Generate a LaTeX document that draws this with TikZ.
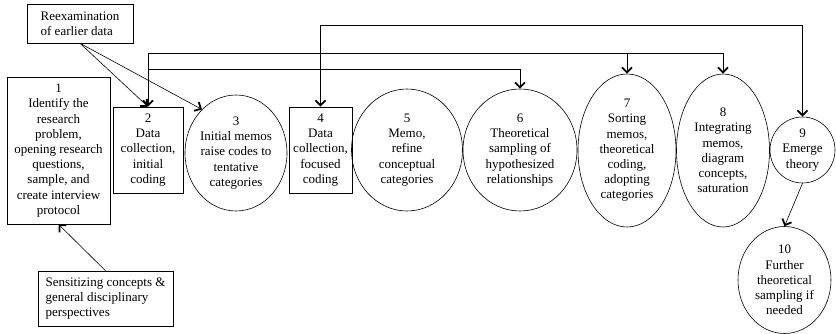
\documentclass[tikz,border=0pt]{standalone}
\usepackage{fontspec}
\setmainfont{Liberation Serif}
\usetikzlibrary{arrows.meta,shapes.geometric}

\begin{document}
\begin{tikzpicture}[x=1pt,y=-1pt,line width=0.6pt,
    every node/.style={font=\fontsize{13}{15.2}\selectfont,align=center,inner sep=0pt},
    stepbox/.style={draw,rectangle},
    stepoval/.style={draw,ellipse},
    arr/.style={-{Straight Barb[length=5pt,width=10pt,line width=1.8pt]}}]

    \useasboundingbox (0,0) rectangle (836,334);

    \node[stepbox,minimum width=103,minimum height=147] (s1) at (58.5,150.5) {1\\Identify the\\research\\problem,\\opening research\\questions,\\sample, and\\create interview\\protocol};
    \node[stepbox,minimum width=70,minimum height=86] (s2) at (148,150) {2\\Data\\collection,\\initial\\coding};
    \node[stepoval,minimum width=102,minimum height=116] (s3) at (236,153) {3\\Initial memos\\raise codes to\\tentative\\categories};
    \node[stepbox,minimum width=63,minimum height=86] (s4) at (320.5,150) {4\\Data\\collection,\\focused\\coding};
    \node[stepoval,minimum width=111,minimum height=122] (s5) at (407,150) {5\\Memo,\\refine\\conceptual\\categories};
    \node[stepoval,minimum width=114,minimum height=122] (s6) at (520,150) {6\\Theoretical\\sampling of\\hypothesized\\relationships};
    \node[stepoval,minimum width=98,minimum height=153] (s7) at (627,150.5) {7\\Sorting\\memos,\\theoretical\\coding,\\adopting\\categories};
    \node[stepoval,minimum width=93,minimum height=153] (s8) at (723,150.5) {8\\Integrating\\memos,\\diagram\\concepts,\\saturation};
    \node[stepoval,minimum width=65,minimum height=66] (s9) at (802.5,150) {9\\Emerge\\theory};
    \node[stepoval,minimum width=93,minimum height=107] (s10) at (784.5,280) {10\\Further\\theoretical\\sampling if\\needed};

    \node[stepbox,minimum width=106,minimum height=39,align=left] (reex) at (80,23.5) {Reexamination\\of earlier data};
    \node[stepbox,minimum width=135,minimum height=55,align=left] (sens) at (105.5,298.5) {Sensitizing concepts \&\\general disciplinary\\perspectives};

    \coordinate (busA) at (0,53);
    \coordinate (busB) at (0,69);
    \coordinate (busC) at (0,25);

    \draw[arr] (reex.south) -- (s2.north);
    \draw[arr] (reex.south) -- (s3.128);

    \draw (s2.north |- busA) -- (s8.north |- busA);
    \draw[arr] (s2.north |- busA) -- (s2.north);
    \draw[arr] (s7.north |- busA) -- (s7.north);
    \draw[arr] (s8.north |- busA) -- (s8.north);

    \draw[arr] (s2.north |- busB) -- (s6.north |- busB) -- (s6.north);

    \draw (s4.north |- busC) -- (s9.north |- busC);
    \draw[arr] (s4.north |- busC) -- (s4.north);
    \draw[arr] (s9.north |- busC) -- (s9.north);

    \draw[arr] (s9.south) -- (s10.north);
    \draw[arr] (sens.north) -- (s1.south);

\end{tikzpicture}
\end{document}
